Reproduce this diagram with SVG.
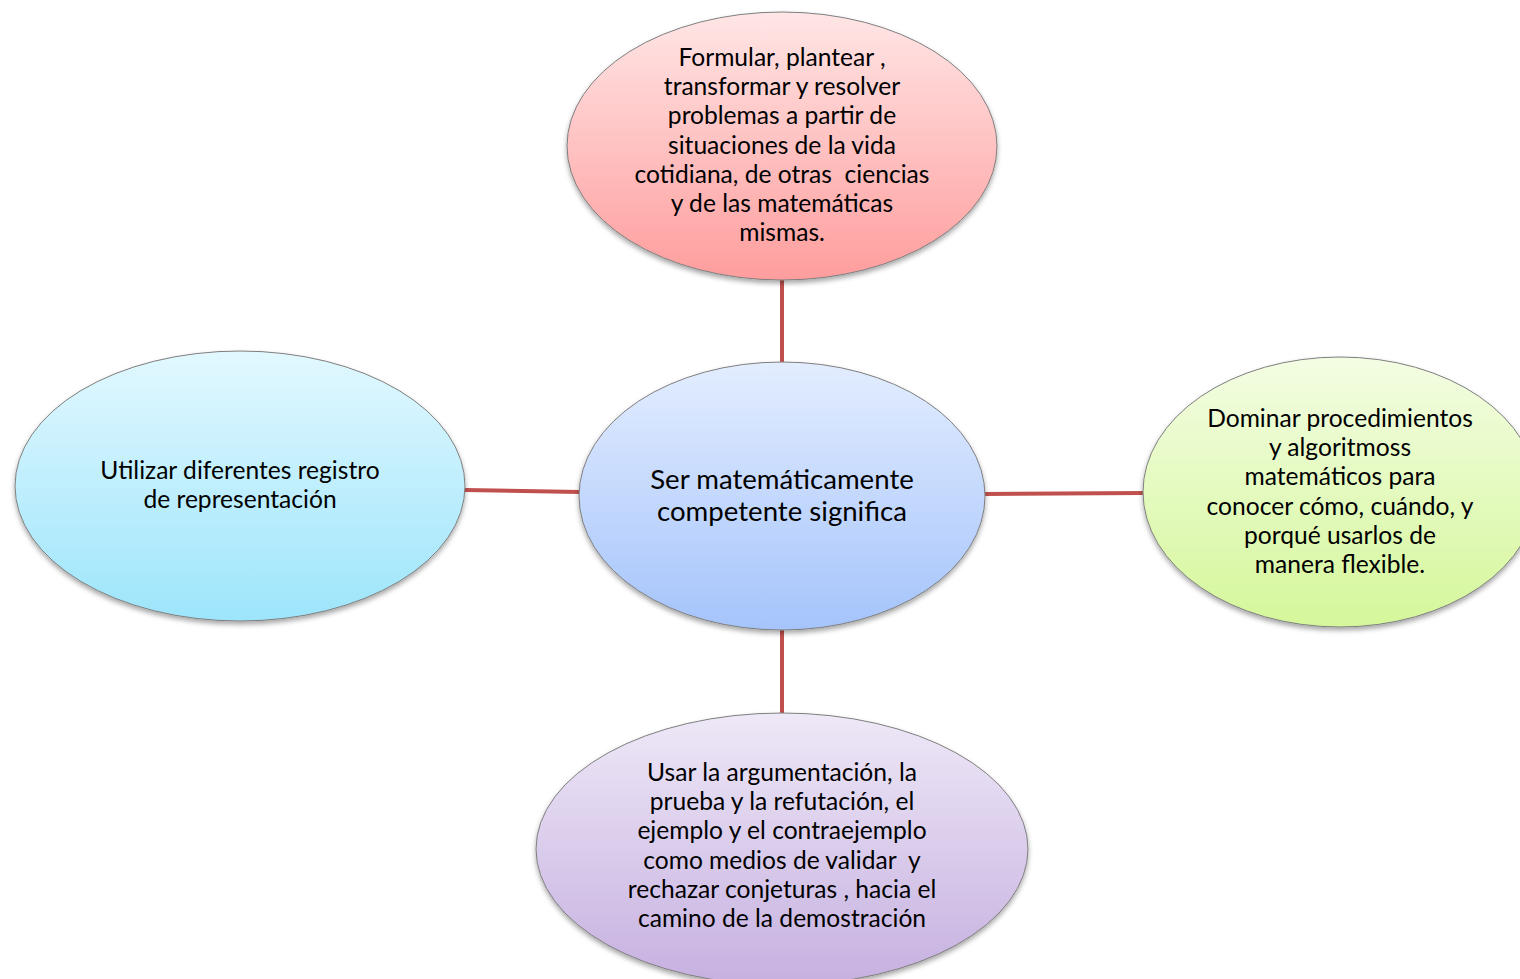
<svg xmlns="http://www.w3.org/2000/svg" width="1520" height="979" viewBox="0 0 1520 979">
<defs>
<linearGradient id="gRed" x1="0" y1="0" x2="0" y2="1"><stop offset="0" stop-color="#ffe6e6"/><stop offset="1" stop-color="#ff9d9d"/></linearGradient>
<linearGradient id="gBlue" x1="0" y1="0" x2="0" y2="1"><stop offset="0" stop-color="#e3edff"/><stop offset="1" stop-color="#a5c4fb"/></linearGradient>
<linearGradient id="gCyan" x1="0" y1="0" x2="0" y2="1"><stop offset="0" stop-color="#e2f8ff"/><stop offset="1" stop-color="#9de5fb"/></linearGradient>
<linearGradient id="gGreen" x1="0" y1="0" x2="0" y2="1"><stop offset="0" stop-color="#f3fde3"/><stop offset="1" stop-color="#d5f79a"/></linearGradient>
<linearGradient id="gPurple" x1="0" y1="0" x2="0" y2="1"><stop offset="0" stop-color="#eee8f7"/><stop offset="1" stop-color="#c6b0e0"/></linearGradient>
<filter id="sh" x="-10%" y="-10%" width="120%" height="125%"><feDropShadow dx="0" dy="3" stdDeviation="2.5" flood-color="#000" flood-opacity="0.35"/></filter>
</defs>
<style>
.node ellipse{stroke:#7f7f7f;stroke-width:1;filter:url(#sh)}
.node text{font-family:Lato,"Open Sans","Liberation Sans",sans-serif;font-size:24.6px;fill:#000;text-anchor:middle}
.node text.big{font-size:27.6px}
#connectors line{stroke:#c0504d;stroke-width:4}
</style>
<rect width="1520" height="979" fill="#fff"/>
<g id="connectors">
<line x1="782" y1="280" x2="782" y2="363"/>
<line x1="465" y1="490" x2="580" y2="492"/>
<line x1="985" y1="494" x2="1144" y2="493"/>
<line x1="782" y1="629" x2="782" y2="714"/>
</g>
<g id="top" class="node">
<ellipse cx="782" cy="146" rx="215" ry="134" fill="url(#gRed)"/>
<text x="782" y="66">Formular, plantear ,</text>
<text x="782" y="95">transformar y resolver</text>
<text x="782" y="124">problemas a partir de</text>
<text x="782" y="154">situaciones de la vida</text>
<text x="782" y="183" xml:space="preserve">cotidiana, de otras  ciencias</text>
<text x="782" y="212">y de las matemáticas</text>
<text x="782" y="241">mismas.</text>
</g>
<g id="center" class="node">
<ellipse cx="782" cy="496" rx="203" ry="134" fill="url(#gBlue)"/>
<text class="big" x="782" y="489">Ser matemáticamente</text>
<text class="big" x="782" y="521">competente significa</text>
</g>
<g id="left" class="node">
<ellipse cx="240" cy="486" rx="225" ry="135" fill="url(#gCyan)"/>
<text x="240" y="479">Utilizar diferentes registro</text>
<text x="240" y="508">de representación</text>
</g>
<g id="right" class="node">
<ellipse cx="1340" cy="492" rx="197" ry="135" fill="url(#gGreen)"/>
<text x="1340" y="427">Dominar procedimientos</text>
<text x="1340" y="456">y algoritmoss</text>
<text x="1340" y="485">matemáticos para</text>
<text x="1340" y="515">conocer cómo, cuándo, y</text>
<text x="1340" y="544">porqué usarlos de</text>
<text x="1340" y="573">manera flexible.</text>
</g>
<g id="bottom" class="node">
<ellipse cx="782" cy="849" rx="246" ry="136" fill="url(#gPurple)"/>
<text x="782" y="781">Usar la argumentación, la</text>
<text x="782" y="810">prueba y la refutación, el</text>
<text x="782" y="839">ejemplo y el contraejemplo</text>
<text x="782" y="869" xml:space="preserve">como medios de validar  y</text>
<text x="782" y="898">rechazar conjeturas , hacia el</text>
<text x="782" y="927">camino de la demostración</text>
</g>
</svg>
